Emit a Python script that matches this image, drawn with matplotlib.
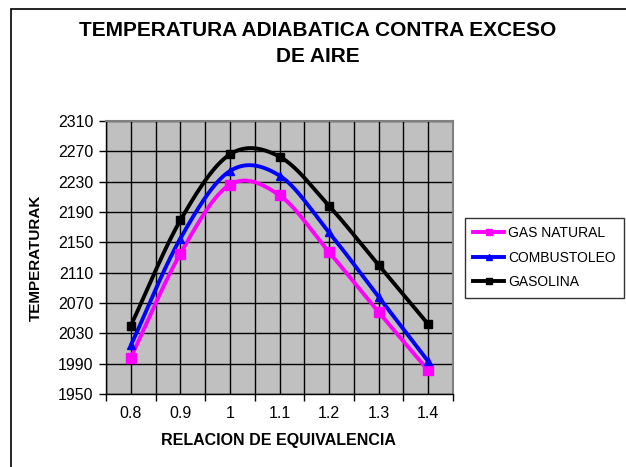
import numpy as np
import matplotlib
matplotlib.use("Agg")
import matplotlib.pyplot as plt
from matplotlib.patches import Rectangle
from matplotlib.lines import Line2D

plt.rcParams['font.family'] = ['Liberation Sans', 'DejaVu Sans']

categories = ["0.8", "0.9", "1", "1.1", "1.2", "1.3", "1.4"]
gas_natural = [1998, 2135, 2226, 2212, 2137, 2058, 1981]
combustoleo = [2014, 2155, 2244, 2238, 2163, 2078, 1993]
gasolina = [2040, 2179, 2266, 2263, 2198, 2120, 2042]

series = [
    ("GAS NATURAL", gas_natural, "#FF00FF", "s", 7),
    ("COMBUSTOLEO", combustoleo, "#0000FF", "^", 6),
    ("GASOLINA", gasolina, "#000000", "s", 5.5),
]


def smooth(xs, ys, n=40):
    """Catmull-Rom curve through the points (Excel-style smoothed line)."""
    xs = np.asarray(xs, float)
    ys = np.asarray(ys, float)
    px = np.concatenate([[2 * xs[0] - xs[1]], xs, [2 * xs[-1] - xs[-2]]])
    py = np.concatenate([[2 * ys[0] - ys[1]], ys, [2 * ys[-1] - ys[-2]]])
    out_x, out_y = [], []
    t = np.linspace(0, 1, n)
    for i in range(1, len(px) - 2):
        for p, out in ((px, out_x), (py, out_y)):
            p0, p1, p2, p3 = p[i - 1], p[i], p[i + 1], p[i + 2]
            c1 = p1 + (p2 - p0) / 6
            c2 = p2 - (p3 - p1) / 6
            seg = ((1 - t) ** 3 * p1 + 3 * (1 - t) ** 2 * t * c1
                   + 3 * (1 - t) * t ** 2 * c2 + t ** 3 * p2)
            out.extend(seg if i == 1 else seg[1:])
    return np.array(out_x), np.array(out_y)


fig = plt.figure(figsize=(6.26, 4.67), dpi=100)
W, H = 626, 467

# chart border
fig.add_artist(Rectangle((11 / W, -0.1), 1.2, (H - 9) / H + 0.1,
                         transform=fig.transFigure, fill=False,
                         edgecolor="black", linewidth=1.2))

ax = fig.add_axes([106 / W, (H - 394) / H, (453 - 106) / W, (394 - 121) / H])
ax.set_facecolor("#C0C0C0")

x = np.arange(len(categories))
ax.set_xlim(-0.5, len(categories) - 0.5)
ax.set_ylim(1950, 2310)

for v in np.arange(-0.5, len(categories), 0.5):
    ax.axvline(v, color="black", linewidth=1.0, zorder=1)
for v in np.arange(1950, 2311, 40):
    ax.axhline(v, color="black", linewidth=1.0, zorder=1)

for name, vals, color, marker, ms in series:
    sx, sy = smooth(x, vals)
    ax.plot(sx, sy, color=color, linewidth=2.8, zorder=3, solid_capstyle="butt")
    ax.plot(x, vals, linestyle="none", marker=marker, color=color,
            markersize=ms, zorder=4)

ax.set_yticks(np.arange(1950, 2311, 40))
ax.set_xticks(np.arange(-0.5, len(categories), 1.0))
ax.set_xticklabels([])
ax.set_xticks(x, minor=True)
ax.set_xticklabels(categories, minor=True)
ax.tick_params(axis="x", which="minor", length=0, pad=9, labelsize=11.5)
ax.tick_params(axis="x", which="major", length=5, width=1, direction="out")
ax.tick_params(axis="y", length=5, width=1, direction="out", pad=4, labelsize=11.5)

for s in ("left", "bottom"):
    ax.spines[s].set_color("black")
    ax.spines[s].set_linewidth(1.0)
for s in ("top", "right"):
    ax.spines[s].set_color("#808080")
    ax.spines[s].set_linewidth(1.5)

fig.text(318 / W, 1 - 31 / H, "TEMPERATURA ADIABATICA CONTRA EXCESO",
         ha="center", va="center", fontsize=15, fontweight="bold")
fig.text(318 / W, 1 - 57 / H, "DE AIRE",
         ha="center", va="center", fontsize=15, fontweight="bold")
fig.text(278 / W, 1 - 440 / H, "RELACION DE EQUIVALENCIA",
         ha="center", va="center", fontsize=11.5, fontweight="bold")
fig.text(36 / W, 1 - 258 / H, "TEMPERATURAK", rotation=90,
         ha="center", va="center", fontsize=11, fontweight="bold")

handles = [Line2D([], [], color=c, linewidth=2.8, marker=m, markersize=4)
           for _, _, c, m, _ in series]
leg = fig.legend(handles, [s[0] for s in series],
                 loc="upper left", bbox_to_anchor=(465 / W, 1 - 218 / H),
                 frameon=True, fancybox=False, edgecolor="black",
                 fontsize=10, handlelength=2.2, handletextpad=0.3,
                 labelspacing=0.75, borderpad=0.6, borderaxespad=0)
leg.get_frame().set_linewidth(1.0)

fig.savefig("out.png", dpi=100)
